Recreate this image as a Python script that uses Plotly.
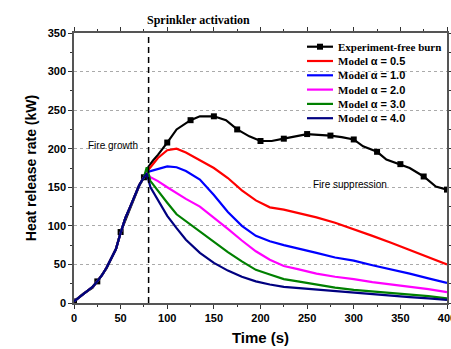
import plotly.graph_objects as go

# ---------------- data ----------------
exp_t = [0, 10, 20, 25, 35, 45, 50, 60, 70, 75, 80, 85, 90, 100, 110, 125, 135, 150, 163, 175,
         188, 200, 212, 225, 237, 250, 262, 275, 287, 300, 310, 325, 335, 350, 360, 375, 388, 400]
exp_v = [2, 12, 20, 28, 45, 70, 92, 122, 152, 163, 177, 185, 192, 208, 225, 237, 242, 242, 237, 225,
         216, 210, 210, 213, 216, 219, 218, 217, 215, 212, 203, 196, 186, 180, 175, 164, 151, 147]

growth_t = [0, 5, 10, 15, 20, 25, 30, 35, 40, 45, 50, 55, 60, 65, 70, 75]
growth_v = [2, 7, 12, 16, 21, 28, 36, 46, 58, 70, 91, 110, 124, 139, 153, 163]

model_t = [78, 82, 90, 100, 110, 120, 135, 150, 165, 180, 195, 210, 225, 240,
           260, 280, 300, 320, 340, 360, 380, 400]
model_a05 = [170, 176, 188, 198, 200, 195, 185, 175, 162, 146, 133, 124, 121, 117,
             111, 104, 96, 87, 78, 69, 60, 50]
model_a10 = [170, 171, 174, 177, 176, 171, 160, 140, 118, 100, 87, 80, 75, 71,
             65, 59, 55, 49, 43, 38, 32, 26]
model_a20 = [170, 163, 158, 150, 142, 135, 125, 111, 96, 81, 67, 56, 48, 44,
             38, 34, 31, 27, 24, 21, 18, 14]
model_a30 = [176, 158, 145, 130, 115, 106, 93, 79, 66, 54, 43, 37, 31, 28,
             24, 20, 17, 15, 13, 11, 9, 6]
model_a40 = [168, 150, 133, 113, 97, 82, 65, 52, 42, 34, 28, 24, 21, 19.5,
             17, 15, 13, 11, 9, 7.5, 6, 4]

alpha_labels = ["0.5", "1.0", "2.0", "3.0", "4.0"]
model_colors = ["#ff0000", "#0000ff", "#ff00ff", "#008000", "#000080"]
sprinkler_time = 80

W, H = 451, 349
ML, MR, MT, MB = 74, 4, 33, 46
PW, PH = W - ML - MR, H - MT - MB


def px2paper(px, py):
    return (px - ML) / PW, (H - MB - py) / PH


# ---------------- figure ----------------
fig = go.Figure()

fig.add_trace(go.Scatter(x=exp_t, y=exp_v, mode="lines",
                         line=dict(color="black", width=2.2), showlegend=False, hoverinfo="skip"))
mk_t = [t for t in exp_t if t % 25 == 0]
mk_v = [v for t, v in zip(exp_t, exp_v) if t % 25 == 0]
fig.add_trace(go.Scatter(x=mk_t, y=mk_v, mode="markers",
                         marker=dict(symbol="square", size=6, color="black"), showlegend=False))

for vals, lab, col in zip([model_a05, model_a10, model_a20, model_a30, model_a40],
                          alpha_labels, model_colors):
    fig.add_trace(go.Scatter(
        x=growth_t + model_t, y=growth_v + vals, mode="lines",
        line=dict(color=col, width=2.2), showlegend=False,
        name="Model α = " + lab))

fig.add_shape(type="line", x0=sprinkler_time, x1=sprinkler_time, y0=0, y1=350,
              xref="x", yref="y", line=dict(color="black", width=1.5, dash="6px,4px"))

# ---------- legend (drawn manually for compact row spacing) ----------
leg_names = ["Experiment-free burn"] + [
    "Model <span style='font-family:Liberation Sans'>α = " + a + "</span>" for a in alpha_labels]
leg_colors = ["black"] + model_colors
for i, (nm, col) in enumerate(zip(leg_names, leg_colors)):
    py = 46.7 + i * 14.3
    x0, yy = px2paper(307, py)
    x1, _ = px2paper(333, py)
    xt, _ = px2paper(336, py)
    fig.add_shape(type="line", xref="paper", yref="paper", x0=x0, x1=x1, y0=yy, y1=yy,
                  line=dict(color=col, width=2.2))
    if i == 0:
        xm, _ = px2paper(320, py)
        dx = 3 / PW
        dy = 3 / PH
        fig.add_shape(type="rect", xref="paper", yref="paper",
                      x0=xm - dx, x1=xm + dx, y0=yy - dy, y1=yy + dy,
                      fillcolor="black", line=dict(width=0))
    fig.add_annotation(x=xt, y=yy, xref="paper", yref="paper", xanchor="left", yanchor="middle",
                       showarrow=False, text="<b>" + nm + "</b>",
                       font=dict(family="Liberation Serif", size=11, color="black"))

fig.add_annotation(x=0.19, y=1.0, xref="paper", yref="paper", yshift=22, showarrow=False,
                   text="<b>Sprinkler activation</b>",
                   font=dict(family="Liberation Serif", size=12, color="black"))
fig.add_annotation(x=41.5, y=204, showarrow=False, text="Fire growth",
                   font=dict(family="Liberation Sans", size=10, color="black"))
fig.add_annotation(x=296, y=153, showarrow=False, text="Fire suppression",
                   font=dict(family="Liberation Sans", size=10, color="black"))

axis_common = dict(
    showline=True, linecolor="#555555", linewidth=1.5, mirror="ticks",
    ticks="outside", ticklen=4, tickwidth=1.2, tickcolor="#333333",
    tickfont=dict(family="Liberation Sans", size=11, color="black", weight="bold"),
    zeroline=False, automargin=False, ticklabeloverflow="allow",
)

fig.update_xaxes(range=[0, 400], dtick=50, showgrid=False,
                 minor=dict(dtick=25, ticks="outside", ticklen=2, tickcolor="#333333"),
                 title=dict(text="<b>Time (s)</b>", standoff=10,
                            font=dict(family="Liberation Sans", size=15, color="black")),
                 **axis_common)
fig.update_yaxes(range=[0, 350], dtick=50, showgrid=True, gridcolor="#aaaaaa",
                 griddash="dot", gridwidth=1,
                 minor=dict(dtick=25, ticks="outside", ticklen=2, tickcolor="#333333"),
                 title=dict(text="<b>Heat release rate (kW)</b>", standoff=8,
                            font=dict(family="Liberation Sans", size=14, color="black")),
                 **axis_common)

fig.update_layout(
    width=W, height=H,
    margin=dict(l=ML, r=MR, t=MT, b=MB),
    plot_bgcolor="white", paper_bgcolor="white",
    showlegend=False,
)

fig.write_html("out.html")
